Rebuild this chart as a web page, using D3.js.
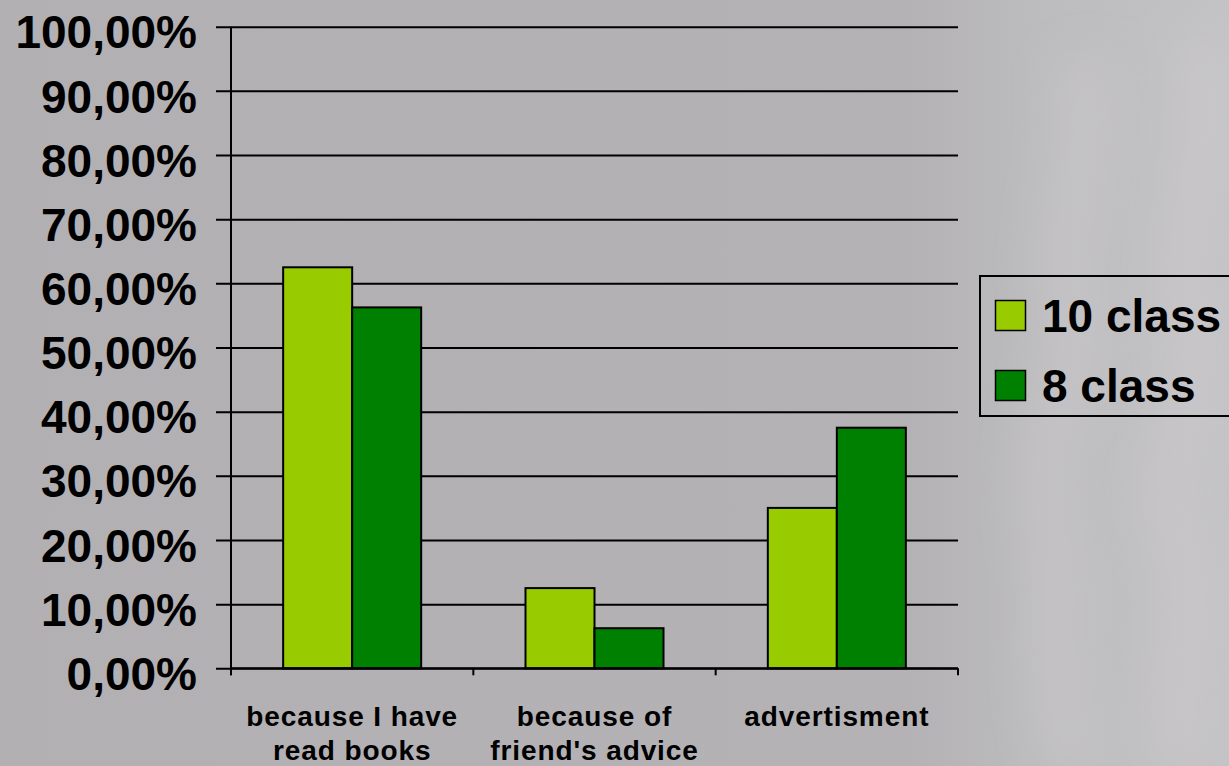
<!DOCTYPE html>
<html>
<head>
<meta charset="utf-8">
<script src="https://cdn.jsdelivr.net/npm/d3@7"></script>
<style>
  html, body { margin: 0; padding: 0; overflow: hidden; }
  body { width: 1229px; height: 766px; }
  svg { display: block; }
</style>
</head>
<body>
<svg id="chart" width="1229" height="766"></svg>
<script>
// ---- data ----
const categories = [["because I have", "read books"], ["because of", "friend's advice"], ["advertisment"]];
const categoryKeys = ["books", "friend", "advert"];
const seriesNames = ["10 class", "8 class"];
const class10 = [0.625, 0.125, 0.25];
const class8 = [0.5625, 0.0625, 0.375];
const yTicks = [0, 0.1, 0.2, 0.3, 0.4, 0.5, 0.6, 0.7, 0.8, 0.9, 1.0];
const colors = ["#99cc00", "#008000"];

// ---- layout ----
const W = 1229, H = 766;
const plot = { left: 231, right: 958, top: 26.7, bottom: 668.3 };
const svg = d3.select("#chart");
const font = "'Liberation Sans', Arial, Helvetica, sans-serif";

// background
const defs = svg.append("defs");
const bg = defs.append("linearGradient").attr("id", "bg").attr("x1", 0).attr("x2", 1).attr("y1", 0).attr("y2", 0);
bg.append("stop").attr("offset", "0%").attr("stop-color", "#b2b0b3");
bg.append("stop").attr("offset", "74%").attr("stop-color", "#b4b2b5");
bg.append("stop").attr("offset", "84%").attr("stop-color", "#bcbbbd");
bg.append("stop").attr("offset", "100%").attr("stop-color", "#c3c2c4");
svg.append("rect").attr("width", W).attr("height", H).attr("fill", "url(#bg)");
const blur = defs.append("filter").attr("id", "blur").attr("x", "-50%").attr("y", "-50%").attr("width", "200%").attr("height", "200%");
blur.append("feGaussianBlur").attr("stdDeviation", 22);
const smoke = svg.append("g").attr("filter", "url(#blur)").attr("fill", "none").attr("stroke", "#cfcecf").attr("stroke-opacity", 0.4);
smoke.append("path").attr("d", "M1080,766 C1040,680 1070,600 1050,520 C1030,440 1090,380 1070,300 C1055,230 1100,150 1080,60").attr("stroke-width", 50);
smoke.append("path").attr("d", "M1190,766 C1160,690 1210,620 1180,540 C1150,460 1210,400 1190,320 C1170,240 1220,160 1200,40").attr("stroke-width", 60);

const y = d3.scaleLinear().domain([0, 1]).range([plot.bottom, plot.top]);
const x0 = d3.scaleBand().domain(categoryKeys).range([plot.left, plot.right]).padding(0);
const x1 = d3.scaleBand().domain(seriesNames).range([0, x0.bandwidth()]).paddingInner(0).paddingOuter(0.756);

// y axis with gridlines (ticks extend to the left of axis)
const fmt = v => (v * 100).toFixed(2).replace(".", ",") + "%";
const yAxis = d3.axisLeft(y).tickValues(yTicks).tickFormat(fmt)
  .tickSize(plot.right - plot.left + 15).tickPadding(19);
const gy = svg.append("g").attr("transform", `translate(${plot.right},0)`).call(yAxis);
gy.select(".domain").remove();
gy.selectAll(".tick line").attr("stroke", "#000").attr("stroke-width", 2);
gy.selectAll(".tick text").attr("font-family", font).attr("font-weight", "bold")
  .attr("font-size", 46).attr("fill", "#000").attr("dy", "0.46em");

// y axis line
svg.append("line").attr("x1", plot.left).attr("x2", plot.left)
  .attr("y1", y(1)).attr("y2", y(0) + 7).attr("stroke", "#000").attr("stroke-width", 2);

// bars
const rows = categoryKeys.map((k, i) => ({ key: k, values: [class10[i], class8[i]] }));
const groups = svg.append("g").selectAll("g").data(rows).join("g")
  .attr("transform", d => `translate(${x0(d.key)},0)`);
groups.selectAll("rect").data(d => d.values.map((v, j) => ({ s: seriesNames[j], v, j })))
  .join("rect")
  .attr("x", d => x1(d.s)).attr("width", x1.bandwidth())
  .attr("y", d => y(d.v)).attr("height", d => y(0) - y(d.v))
  .attr("fill", d => colors[d.j]).attr("stroke", "#000").attr("stroke-width", 2);

// x axis baseline + category ticks
svg.append("line").attr("x1", plot.left).attr("x2", plot.right)
  .attr("y1", y(0)).attr("y2", y(0)).attr("stroke", "#000").attr("stroke-width", 2);
const tickXs = categoryKeys.map(k => x0(k)).concat([x0.range()[1]]);
svg.append("g").selectAll("line").data(tickXs).join("line")
  .attr("x1", d => d).attr("x2", d => d).attr("y1", y(0)).attr("y2", y(0) + 7)
  .attr("stroke", "#000").attr("stroke-width", 2);

// category labels
const labels = svg.append("g").selectAll("text").data(categoryKeys).join("text")
  .attr("x", k => x0(k) + x0.bandwidth() / 2)
  .attr("y", 726)
  .attr("text-anchor", "middle")
  .attr("font-family", font).attr("font-weight", "bold").attr("font-size", 28)
  .attr("letter-spacing", "0.9px").attr("fill", "#000");
labels.each(function (k, i) {
  const t = d3.select(this);
  categories[i].forEach((line, li) => {
    t.append("tspan").attr("x", x0(k) + x0.bandwidth() / 2).attr("dy", li === 0 ? 0 : 34).text(line);
  });
});

// legend
const lg = svg.append("g");
lg.append("rect").attr("x", 980).attr("y", 276).attr("width", 270).attr("height", 140)
  .attr("fill", "none").attr("stroke", "#000").attr("stroke-width", 2);
const items = lg.selectAll("g").data(seriesNames).join("g")
  .attr("transform", (d, i) => `translate(0,${i * 70})`);
items.append("rect").attr("x", 995.5).attr("y", 300.5).attr("width", 30).attr("height", 30)
  .attr("fill", (d, i) => colors[i]).attr("stroke", "#000").attr("stroke-width", 1.5);
items.append("text").attr("x", 1042).attr("y", 332)
  .attr("font-family", font).attr("font-weight", "bold").attr("font-size", 46)
  .attr("fill", "#000").text(d => d);
</script>
</body>
</html>
